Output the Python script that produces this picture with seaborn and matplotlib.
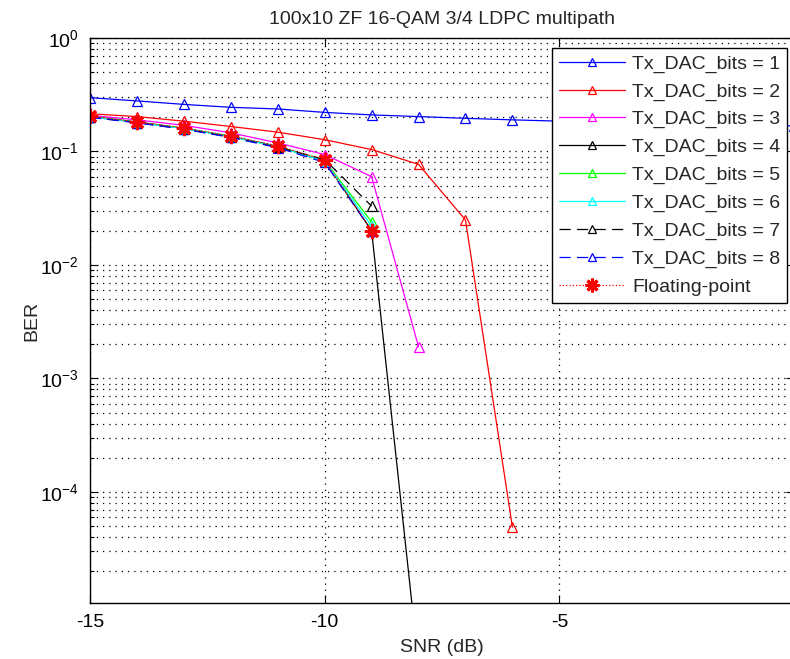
import numpy as np
import pandas as pd
import matplotlib
matplotlib.use("Agg")
import matplotlib.pyplot as plt
import seaborn as sns

# ---------------- data ----------------
snr_1 = [-15, -14, -13, -12, -11, -10, -9, -8, -7, -6, -5, -4, -3, -2, -1, 0]
ber_1 = [0.298, 0.279, 0.260, 0.245, 0.237, 0.221, 0.210, 0.203, 0.196, 0.190,
         0.185, 0.180, 0.176, 0.173, 0.170, 0.168]
snr_2 = [-15, -14, -13, -12, -11, -10, -9, -8, -7, -6]
ber_2 = [0.215, 0.203, 0.185, 0.166, 0.148, 0.127, 0.104, 0.077, 0.0249, 4.9e-5]
snr_3 = [-15, -14, -13, -12, -11, -10, -9, -8]
ber_3 = [0.208, 0.190, 0.170, 0.146, 0.119, 0.094, 0.060, 0.0019]
snr_4 = [-15, -14, -13, -12, -11, -10, -9, -8]
ber_4 = [0.203, 0.182, 0.160, 0.136, 0.111, 0.083, 0.020, 3e-6]
snr_5 = [-15, -14, -13, -12, -11, -10, -9]
ber_5 = [0.202, 0.181, 0.160, 0.136, 0.110, 0.083, 0.024]
snr_6 = [-15, -14, -13, -12, -11, -10, -9]
ber_6 = [0.202, 0.180, 0.159, 0.135, 0.110, 0.082, 0.022]
snr_7 = [-15, -14, -13, -12, -11, -10, -9]
ber_7 = [0.201, 0.180, 0.158, 0.134, 0.109, 0.085, 0.033]
snr_8 = [-15, -14, -13, -12, -11, -10, -9]
ber_8 = [0.200, 0.179, 0.157, 0.133, 0.108, 0.080, 0.020]
snr_fp = [-15, -14, -13, -12, -11, -10, -9]
ber_fp = [0.205, 0.182, 0.161, 0.137, 0.112, 0.084, 0.0199]

labels = ["Tx_DAC_bits = 1", "Tx_DAC_bits = 2", "Tx_DAC_bits = 3", "Tx_DAC_bits = 4",
          "Tx_DAC_bits = 5", "Tx_DAC_bits = 6", "Tx_DAC_bits = 7", "Tx_DAC_bits = 8",
          "Floating-point"]
x_ticks = [-15, -10, -5, 0]
x_ticklabels = ["-15", "-10", "-5", ""]   # the "0" label lies outside the cropped picture
y_ticks = [1e0, 1e-1, 1e-2, 1e-3, 1e-4]
y_ticklabels = [r"$10^{0}$", r"$10^{-1}$", r"$10^{-2}$", r"$10^{-3}$", r"$10^{-4}$"]
title = "100x10 ZF 16-QAM 3/4 LDPC multipath"

# ---------------- style ----------------
sns.set_theme(style="ticks")
plt.rcParams["font.family"] = ["Liberation Sans", "DejaVu Sans"]
plt.rcParams["mathtext.fontset"] = "custom"
plt.rcParams["mathtext.rm"] = "Liberation Sans"
plt.rcParams["mathtext.it"] = "Liberation Sans"
plt.rcParams["axes.unicode_minus"] = False

fig = plt.figure(figsize=(7.9, 6.59), dpi=100)
# axes extend slightly past the right edge, as in the cropped reference
ax = fig.add_axes([90 / 790, 1 - 603 / 659, 704 / 790, (603 - 38) / 659])

series = [
    (snr_1, ber_1, dict(color=(0, 0, 1), marker="^", ls="-")),
    (snr_2, ber_2, dict(color=(1, 0, 0), marker="^", ls="-")),
    (snr_3, ber_3, dict(color=(1, 0, 1), marker="^", ls="-")),
    (snr_4, ber_4, dict(color=(0, 0, 0), marker="^", ls="-")),
    (snr_5, ber_5, dict(color=(0, 1, 0), marker="^", ls="-")),
    (snr_6, ber_6, dict(color=(0, 1, 1), marker="^", ls="-")),
    (snr_7, ber_7, dict(color=(0, 0, 0), marker="^", ls=(0, (9, 5)))),
    (snr_8, ber_8, dict(color=(0, 0, 1), marker="^", ls=(0, (9, 5)))),
    (snr_fp, ber_fp, dict(color=(1, 0, 0), marker=(8, 2, 0), ls=":")),
]

for (xs, ys, st), lab in zip(series, labels):
    is_star = st["marker"] != "^"
    sns.lineplot(x=xs, y=ys, ax=ax, color=st["color"], linestyle=st["ls"],
                 linewidth=0.9, marker=st["marker"],
                 markersize=11 if is_star else 6.5,
                 markerfacecolor=st["color"] if is_star else "none",
                 markeredgecolor=st["color"], markeredgewidth=2.2 if is_star else 0.9,
                 label=lab, sort=False, estimator=None)

ax.set_yscale("log")
ax.set_xlim(-15, 0)
ax.set_ylim(1.05e-5, 1)
ax.set_xticks(x_ticks)
ax.set_xticklabels(x_ticklabels)
ax.set_yticks(y_ticks)
ax.set_yticklabels(y_ticklabels)
ax.minorticks_on()
ax.xaxis.set_minor_locator(matplotlib.ticker.NullLocator())
ax.tick_params(which="both", direction="in", top=True, right=True,
               labelsize=14, colors="black", width=0.8)
ax.tick_params(which="major", length=6, pad=8)
ax.tick_params(which="minor", length=3)

ax.grid(True, which="major", axis="both", linestyle=(0, (1, 4)), color="black", linewidth=0.9)
ax.grid(True, which="minor", axis="y", linestyle=(0, (1, 4)), color="black", linewidth=0.9)
for s in ax.spines.values():
    s.set_color("black")
    s.set_linewidth(1.0)

ax.set_title(title, fontsize=14, pad=10)
ax.set_xlabel("SNR (dB)", fontsize=14, labelpad=6)
ax.set_ylabel("BER", fontsize=14, labelpad=0)

leg = ax.legend(loc="upper right", bbox_to_anchor=(787 / 790, 1 - 48 / 659),
                bbox_transform=fig.transFigure, borderaxespad=0, fontsize=14,
                frameon=True, fancybox=False, framealpha=1, edgecolor="black",
                handlelength=3.4, handletextpad=0.35, labelspacing=0.52,
                borderpad=0.35, markerscale=0.9)
leg.get_frame().set_linewidth(1.0)

fig.savefig("out.png", dpi=100)
